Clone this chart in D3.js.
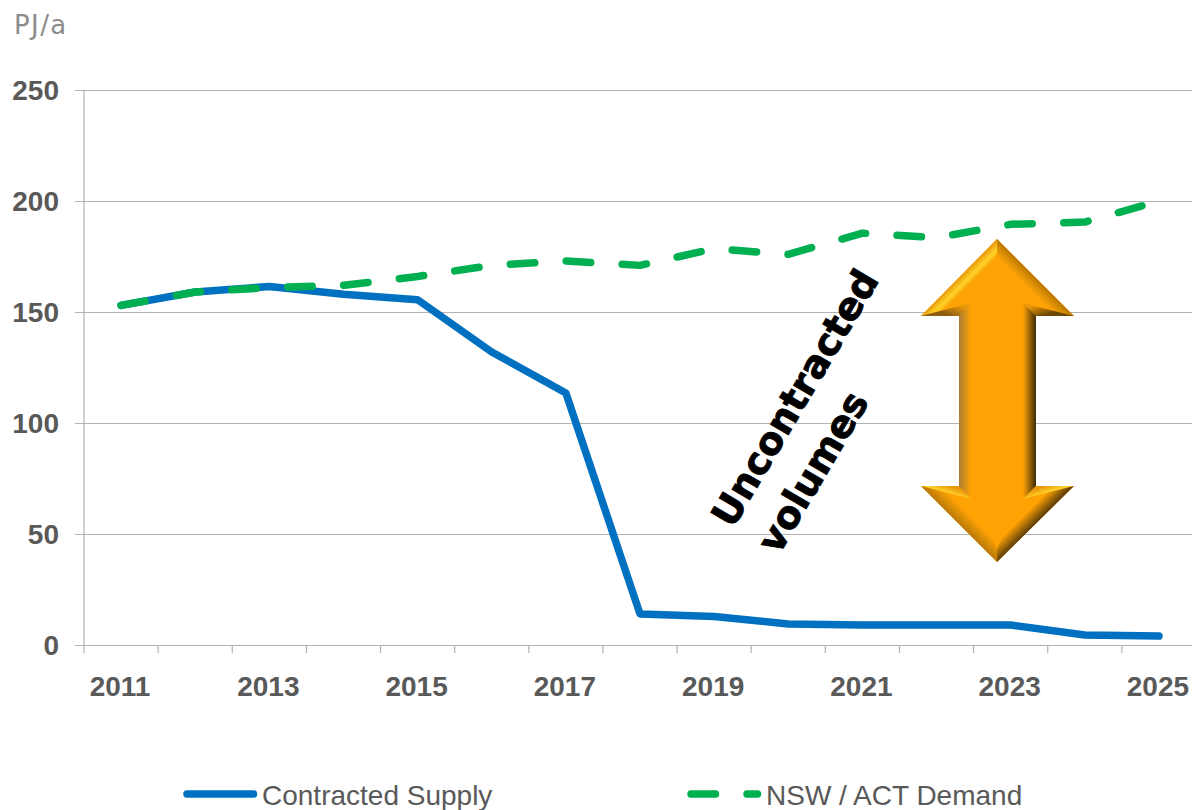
<!DOCTYPE html>
<html>
<head>
<meta charset="utf-8">
<script src="https://cdn.jsdelivr.net/npm/d3@7"></script>
<style>
  html, body { margin: 0; padding: 0; background: #fff; overflow: hidden; }
  svg { display: block; }
</style>
</head>
<body>
<script>
var width = 1192,
    height = 810;

var years = [2011, 2012, 2013, 2014, 2015, 2016, 2017, 2018, 2019, 2020, 2021, 2022, 2023, 2024, 2025];
var contractedSupply = [153, 159, 161.5, 158, 155.5, 132, 113.5, 14, 12.8, 9.5, 9, 9, 9, 4.5, 4];
var demand = [153, 159, 161, 162, 166, 171, 173, 171, 178.5, 176, 185.5, 183.5, 189.5, 190.5, 200];
var yTicks = [0, 50, 100, 150, 200, 250];
var xLabels = [2011, 2013, 2015, 2017, 2019, 2021, 2023, 2025];

var textGrey = "#595959",
    gridGrey = "#b3b3b3",
    labelFont = "'Liberation Sans', Arial, sans-serif",
    lineWidth = 7.5,
    dash = "24.5,31.5";

var svg = d3.select("body").append("svg")
    .attr("width", width)
    .attr("height", height);

var x = d3.scaleBand().domain(years).range([84, 1196]);
var y = d3.scaleLinear().domain([0, 250]).range([645, 90]);

// horizontal gridlines, these stick out left of the axis as ticks
svg.selectAll("line.grid")
    .data(yTicks).enter().append("line")
    .attr("class", "grid")
    .attr("x1", 75)
    .attr("x2", 1196)
    .attr("y1", function(d) { return y(d) + 0.5; })
    .attr("y2", function(d) { return y(d) + 0.5; })
    .style("stroke", gridGrey)
    .style("stroke-width", 1.2);

svg.append("line")
    .attr("x1", 84)
    .attr("x2", 84)
    .attr("y1", y(250))
    .attr("y2", y(0))
    .style("stroke", gridGrey)
    .style("stroke-width", 1.2);

// x ticks sit between the categories
svg.selectAll("line.xtick")
    .data(years).enter().append("line")
    .attr("class", "xtick")
    .attr("x1", function(d) { return x(d); })
    .attr("x2", function(d) { return x(d); })
    .attr("y1", y(0))
    .attr("y2", y(0) + 8)
    .style("stroke", gridGrey)
    .style("stroke-width", 1.2);

svg.selectAll("text.ylabel")
    .data(yTicks).enter().append("text")
    .attr("class", "ylabel")
    .attr("x", 59)
    .attr("y", function(d) { return y(d) + 9.5; })
    .attr("text-anchor", "end")
    .style("font", "bold 28px " + labelFont)
    .style("fill", textGrey)
    .text(function(d) { return d; });

svg.selectAll("text.xlabel")
    .data(xLabels).enter().append("text")
    .attr("class", "xlabel")
    .attr("x", function(d) { return x(d) + x.bandwidth() / 2 - 1; })
    .attr("y", 696)
    .attr("text-anchor", "middle")
    .style("font", "bold 28px " + labelFont)
    .style("fill", textGrey)
    .text(function(d) { return d; });

svg.append("text")
    .attr("x", 14)
    .attr("y", 34)
    .style("font", "26px 'DejaVu Sans', sans-serif")
    .style("letter-spacing", "1.4px")
    .style("fill", "#8c8c8c")
    .text("PJ/a");

var line = d3.line()
    .x(function(d, i) { return x(years[i]) + x.bandwidth() / 2; })
    .y(function(d) { return y(d); });

svg.append("path")
    .attr("d", line(contractedSupply))
    .style("fill", "none")
    .style("stroke", "#0070c0")
    .style("stroke-width", lineWidth)
    .style("stroke-linecap", "round")
    .style("stroke-linejoin", "round");

svg.append("path")
    .attr("d", line(demand))
    .style("fill", "none")
    .style("stroke", "#00b050")
    .style("stroke-width", lineWidth)
    .style("stroke-linecap", "round")
    .style("stroke-linejoin", "round")
    .style("stroke-dasharray", dash);

// legend
var legend = [
  {name: "Contracted Supply", color: "#0070c0", dash: null, x1: 187, x2: 253.5, tx: 262},
  {name: "NSW / ACT Demand", color: "#00b050", dash: dash, x1: 691, x2: 757.5, tx: 766}
];

svg.selectAll("line.legend")
    .data(legend).enter().append("line")
    .attr("class", "legend")
    .attr("x1", function(d) { return d.x1; })
    .attr("x2", function(d) { return d.x2; })
    .attr("y1", 794)
    .attr("y2", 794)
    .style("stroke", function(d) { return d.color; })
    .style("stroke-width", lineWidth)
    .style("stroke-linecap", "round")
    .style("stroke-dasharray", function(d) { return d.dash; });

svg.selectAll("text.legend")
    .data(legend).enter().append("text")
    .attr("class", "legend")
    .attr("x", function(d) { return d.tx; })
    .attr("y", 805)
    .style("font", "28px " + labelFont)
    .style("fill", textGrey)
    .text(function(d) { return d.name; });

// double arrow, flat orange with bevel facets on top
var defs = svg.append("defs");
var gradCount = 0;
function facet(points, from, to, stops) {
  var id = "facet" + (gradCount++);
  var g = defs.append("linearGradient")
      .attr("id", id)
      .attr("gradientUnits", "userSpaceOnUse")
      .attr("x1", from[0]).attr("y1", from[1])
      .attr("x2", to[0]).attr("y2", to[1]);
  stops.forEach(function(s) {
    g.append("stop").attr("offset", s[0]).attr("stop-color", s[1]);
  });
  svg.append("polygon")
      .attr("points", points.join(" "))
      .style("fill", "url(#" + id + ")");
}

var orange = "#ffa305";
svg.append("polygon")
    .attr("points", [[997, 239], [921, 316], [959, 316], [959, 486], [921, 486], [997, 562], [1074, 486], [1036, 486], [1036, 316], [1074, 316]].join(" "))
    .style("fill", orange);

// top head
facet([[997, 239], [921, 316], [971, 303], [997, 253]], [959, 277], [968, 286],
  [[0, "#e8960a"], [0.6, "#ffd42a"], [1, orange]]);
facet([[997, 239], [1074, 316], [1023, 303], [997, 253]], [1035, 277], [1026, 286],
  [[0, "#b97a06"], [1, orange]]);
facet([[921, 316], [959, 316], [971, 303]], [950, 316], [955, 304],
  [[0, "#8a5d12"], [1, "#e8960a"]]);
facet([[1074, 316], [1036, 316], [1023, 303]], [1044, 316], [1040, 304],
  [[0, "#6b4708"], [1, "#e8960a"]]);
// shaft
facet([[959, 316], [971, 303], [971, 499], [959, 486]], [959, 0], [971, 0],
  [[0, "#a87c35"], [1, orange]]);
facet([[1036, 316], [1023, 303], [1023, 499], [1036, 486]], [1036, 0], [1023, 0],
  [[0, "#3f2a08"], [1, orange]]);
// bottom head
facet([[921, 486], [959, 486], [971, 499]], [950, 486], [946, 498],
  [[0, "#e8960a"], [0.6, "#ffd42a"], [1, "#f0a010"]]);
facet([[1074, 486], [1036, 486], [1023, 499]], [1044, 486], [1048, 498],
  [[0, "#e8960a"], [0.6, "#ffd42a"], [1, "#f0a010"]]);
facet([[921, 486], [997, 562], [997, 548], [971, 499]], [959, 524], [969, 514],
  [[0, "#b87808"], [1, orange]]);
facet([[1074, 486], [997, 562], [997, 548], [1023, 499]], [1035, 524], [1025, 514],
  [[0, "#5f3f08"], [1, orange]]);

// rotated annotation
var notes = [
  {text: "Uncontracted", cx: 795, cy: 398},
  {text: "volumes", cx: 813, cy: 472}
];
svg.selectAll("text.note")
    .data(notes).enter().append("text")
    .attr("class", "note")
    .attr("transform", function(d) { return "translate(" + d.cx + "," + d.cy + ") rotate(-59.5)"; })
    .attr("text-anchor", "middle")
    .attr("dy", 13)
    .style("font", "bold 38px 'DejaVu Sans', sans-serif")
    .style("fill", "#000")
    .style("stroke", "#000")
    .style("stroke-width", 0.9)
    .text(function(d) { return d.text; });
</script>
</body>
</html>
